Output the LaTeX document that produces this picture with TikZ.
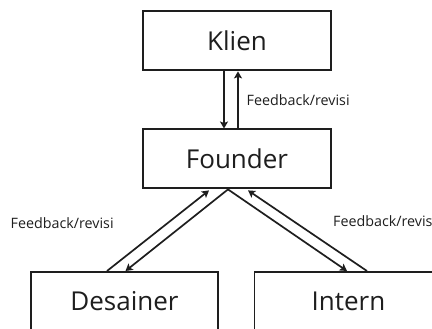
\documentclass[tikz,border=0pt]{standalone}
\usepackage{fontspec}
\setmainfont{Open Sans}
\usetikzlibrary{arrows.meta,calc}
\definecolor{ink}{HTML}{1E1E1E}
\tikzset{
  role/.style={draw=ink, line width=1.9pt, minimum width=188pt, minimum height=59pt,
    inner sep=0pt, text=ink, font=\fontsize{26}{30}\selectfont},
  flow/.style={draw=ink, line width=1.7pt, -{Stealth[length=7pt,width=8pt,inset=1.5pt]}},
  note/.style={text=ink, font=\fontsize{14.3}{17}\selectfont, inner sep=0pt, anchor=west}
}
\begin{document}
\begin{tikzpicture}[x=1pt,y=-1pt]
  \useasboundingbox (0,0) rectangle (432,329);
  \clip (0,0) rectangle (432,329);
  \fill[white] (0,0) rectangle (432,329);

  % boxes
  \node[role, anchor=north] (klien)   at (237,10.5)  {Klien};
  \node[role, anchor=north] (founder) at (237,128.5) {Founder};
  \node[role, anchor=north, minimum width=187pt] (desainer) at (124.5,271) {Desainer};
  \node[role, anchor=north] (intern)  at (348.5,271) {Intern};

  % attachment points on the box edges
  \coordinate (kdown) at ($(klien.south)+(-13,0)$);
  \coordinate (kup)   at ($(klien.south)+(1,0)$);
  \coordinate (fdown) at ($(founder.north)+(-13,0)$);
  \coordinate (fup)   at ($(founder.north)+(1,0)$);
  \coordinate (apex)  at ($(founder.south)+(-9,0)$);
  \coordinate (ftipL) at ($(founder.south)+(-28,1)$);
  \coordinate (ftipR) at ($(founder.south)+(11,1)$);
  \coordinate (dout)  at ($(desainer.north)+(-17.5,0)$);
  \coordinate (din)   at ($(desainer.north)+(1,0)$);
  \coordinate (iin)   at ($(intern.north)+(-1.5,0)$);
  \coordinate (iout)  at ($(intern.north)+(18.5,0)$);

  % connectors
  \draw[flow] (kdown) -- (fdown);
  \draw[flow] (fup) -- (kup);
  \draw[flow] (dout) -- (ftipL);
  \draw[flow] (apex) -- (din);
  \draw[flow] (apex) -- (iin);
  \draw[flow] (iout) -- (ftipR);

  % labels
  \node[note] (l1) at (246.5,100) {Feedback/revisi};
  \node[note] (l2) at (10.5,223) {Feedback/revisi};
  \node[note] (l3) at (333,221) {Feedback/revisi};
\end{tikzpicture}
\end{document}
